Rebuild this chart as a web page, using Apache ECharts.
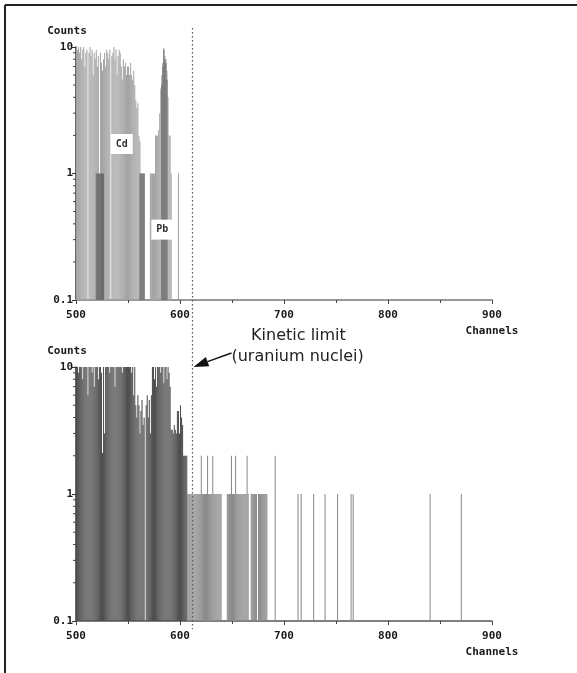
<!DOCTYPE html>
<html><head><meta charset="utf-8">
<script src="https://cdn.jsdelivr.net/npm/echarts@6/dist/echarts.min.js"></script>
<style>html,body{margin:0;padding:0;background:#fff}#c{width:577px;height:673px}</style>
</head><body><div id="c"></div>
<script>
// ---- data ----
const xTickInterval = 100;
const xMin = 500, xMax = 900;
const yMin = 0.1, yMax = 10;
const yMinorTicks = [0.2,0.3,0.4,0.5,0.6,0.7,0.8,0.9,2,3,4,5,6,7,8,9];

// upper panel: Cd + Pb spectrum, one channel per bin
const topCdStart = 500;
const topCdCounts = [
  10,9.5,10,9,10,8,9.5,10,7,9,
  9.5,0,9,10,8.5,9.5,6,9,8,9.5,
  7,8.5,0,9,7.5,6.5,8,9,7,9.5,
  9,8,9.5,0,8.5,9,10,8,9.5,6,
  8.5,9.5,9,7,5.5,8,7,7.5,6,7,
  7,6,7.5,6,5.5,6.5,5,3.8,3.3,3.6,
  2,1.8,1,1,1,1
];
const topPbStart = 571;
const topPbCounts = [1,1,1,1,1,2,2,2,2.2,3,4.7,6,7.5,9.8,8.5,8,6.5,4,2,2,1,0,0,0,0,0,0,1];
const topDarkChannels = [519,520,521,522,523,524,525,526,561,562,563,564,565,582,583,584,585,586,587];
const topDarkCounts   = [1,1,1,1,1,1,1,1,1,1,1,1,1,5,7,9.5,8,7.5,5.5];

// lower panel
const bottomMainStart = 500;
const bottomMainCounts = [
  10,10,9,10,10,10,8,10,10,10,
  10,6,10,10,10,9,10,7,10,10,
  10,8,10,10,9,2.1,10,3,10,10,
  10,10,9,10,10,10,10,7,10,10,
  10,10,10,10,9,10,10,10,10,10,
  10,10,10,9,10,6,10,5,4,6,
  5,3,4.5,5.5,3.5,4,0,5,6,4,
  5.5,3,6,10,10,8,10,7,10,10,
  10,9,10,10,7.5,10,10,8,10,9,
  7,3.2,3.2,3,3.5,3.2,3,4.5,4.5,3,
  5,4,3.5,2,2,2,2
];
const bottomTailChannels = [
  607,608,609,610,611,612,613,614,615,616,617,618,619,620,621,622,623,624,625,626,627,628,629,630,631,
  632,633,634,635,636,637,638,639,645,646,647,648,649,650,651,652,653,654,655,656,657,658,659,660,661,
  662,663,664,665,668,669,670,671,672,673,675,676,677,678,679,680,681,682,683,691,713,716,728,739,751,
  764,766,840,870
];
const bottomTailCounts = [
  1,1,1,1,1,1,1,1,1,1,1,1,1,2,1,1,1,1,1,2,1,1,1,1,2,
  1,1,1,1,1,1,1,1,1,1,1,1,2,1,1,1,2,1,1,1,1,1,1,1,1,
  1,1,2,1,1,1,1,1,1,1,1,1,1,1,1,1,1,1,1,2,1,1,1,1,1,
  1,1,1,1
];
const kineticLimit = 612;
const annotations = [{name:'Cd', ch:544, v:1.71}, {name:'Pb', ch:583, v:0.36}];

// ---- build ----
function fromStart(start, counts){ const out=[]; counts.forEach((v,i)=>{ if(v>0) out.push([start+i, v]); }); return out; }
function fromPairs(chs, counts){ return chs.map((c,i)=>[c, counts[i]]); }

function barItem(params, api){
  const ch = api.value(0), v = api.value(1);
  const p0 = api.coord([ch, v]);
  const p1 = api.coord([ch + 1, yMin]);
  return {type:'rect', shape:{x:p0[0], y:p0[1], width:p1[0]-p0[0], height:p1[1]-p0[1]}, style:{fill: api.visual('color')}};
}
function tickItem(params, api){
  const p = api.coord([xMin, api.value(1)]);
  return {type:'line', shape:{x1:p[0]-3, y1:p[1], x2:p[0], y2:p[1]}, style:{stroke:'#444', lineWidth:1}};
}

const labelFont = {fontFamily:'DejaVu Sans Mono', fontSize:11, color:'#1a1a1a', fontWeight:'bold'};
function xAxisCfg(gi, lineColor, lineW){
  return {gridIndex:gi, type:'value', min:xMin, max:xMax, interval:xTickInterval,
    name:'Channels', nameLocation:'end', nameGap:0,
    nameTextStyle:Object.assign({align:'center', verticalAlign:'top', padding:[26,0,0,0]}, labelFont),
    axisLine:{lineStyle:{color:lineColor, width:lineW}},
    axisTick:{length:4, lineStyle:{color:'#444'}},
    minorTick:{show:true, splitNumber:2, length:3, lineStyle:{color:'#444'}},
    splitLine:{show:false},
    axisLabel:Object.assign({margin:10}, labelFont)};
}
function yAxisCfg(gi){
  return {gridIndex:gi, type:'log', logBase:10, min:yMin, max:yMax,
    name:'Counts', nameLocation:'end', nameGap:10,
    nameTextStyle:Object.assign({align:'center', padding:[0,18,0,0]}, labelFont),
    axisLine:{show:true, lineStyle:{color:'#333', width:1.5}},
    axisTick:{show:true, length:4, lineStyle:{color:'#333'}},
    splitLine:{show:false},
    axisLabel:Object.assign({margin:3, formatter: v => String(v)}, labelFont)};
}

const chart = echarts.init(document.getElementById('c'), null, {renderer:'canvas'});
chart.setOption({
  animation:false,
  backgroundColor:'#fff',
  grid:[{left:76, right:85, top:47, height:253}, {left:76, right:85, top:367, height:254}],
  xAxis:[xAxisCfg(0,'#999',2), xAxisCfg(1,'#555',1.5)],
  yAxis:[yAxisCfg(0), yAxisCfg(1)],
  series:[
    {type:'custom', name:'Cd/Pb', xAxisIndex:0, yAxisIndex:0, renderItem:barItem, itemStyle:{color:'#a4a4a4'},
     data: fromStart(topCdStart, topCdCounts).concat(fromStart(topPbStart, topPbCounts)),
     markPoint:{symbol:'rect', symbolSize:0, silent:true,
       label:{show:true, position:'inside', formatter:p=>p.name, backgroundColor:'#fff', padding:[5,5],
              fontFamily:'DejaVu Sans Mono', fontSize:10, fontWeight:'bold', color:'#333'},
       data: annotations.map(a=>({name:a.name, coord:[a.ch, a.v]}))}},
    {type:'custom', name:'overlap', xAxisIndex:0, yAxisIndex:0, renderItem:barItem, itemStyle:{color:'#6c6c6c'},
     data: fromPairs(topDarkChannels, topDarkCounts)},
    {type:'custom', name:'main', xAxisIndex:1, yAxisIndex:1, renderItem:barItem, itemStyle:{color:'#4e4e4e'},
     data: fromStart(bottomMainStart, bottomMainCounts)},
    {type:'custom', name:'tail', xAxisIndex:1, yAxisIndex:1, renderItem:barItem, itemStyle:{color:'#8a8a8a'},
     data: fromPairs(bottomTailChannels, bottomTailCounts)},
    {type:'custom', xAxisIndex:0, yAxisIndex:0, renderItem:tickItem, clip:false, silent:true, z:5,
     data: yMinorTicks.map(v=>[xMin, v])},
    {type:'custom', xAxisIndex:1, yAxisIndex:1, renderItem:tickItem, clip:false, silent:true, z:5,
     data: yMinorTicks.map(v=>[xMin, v])}
  ]
});

// annotations drawn from the axes' own scales
const lx = chart.convertToPixel({xAxisIndex:0}, kineticLimit);
const topY = chart.convertToPixel({yAxisIndex:0}, yMax) - 19;
const botY = chart.convertToPixel({yAxisIndex:1}, yMin) + 8;
const tip = chart.convertToPixel({xAxisIndex:1, yAxisIndex:1}, [kineticLimit, yMax]);
const tail = [tip[0] + 39, tip[1] - 14];
const dx = tail[0]-tip[0], dy = tail[1]-tip[1], L = Math.hypot(dx, dy);
const ux = dx/L, uy = dy/L, hl = 16, hw = 5;
const base = [tip[0]+ux*hl, tip[1]+uy*hl];
chart.setOption({graphic:[
  {type:'line', silent:true, shape:{x1:5, y1:5, x2:577, y2:5}, style:{stroke:'#222', lineWidth:2}},
  {type:'line', silent:true, shape:{x1:5, y1:5, x2:5, y2:673}, style:{stroke:'#222', lineWidth:2}},
  {type:'line', silent:true, z:10, shape:{x1:lx, y1:topY, x2:lx, y2:botY}, style:{stroke:'#555', lineWidth:1.2, lineDash:[1.5,2.5]}},
  {type:'line', silent:true, z:10, shape:{x1:base[0], y1:base[1], x2:tail[0], y2:tail[1]}, style:{stroke:'#111', lineWidth:1.5}},
  {type:'polygon', silent:true, z:10, shape:{points:[[tip[0]+1, tip[1]], [base[0]-uy*hw, base[1]+ux*hw], [base[0]+uy*hw, base[1]-ux*hw]]}, style:{fill:'#111'}},
  {type:'text', silent:true, z:10, x:tip[0]+106, y:tip[1]-31, style:{text:'Kinetic limit', font:'16px "DejaVu Sans"', fill:'#222', align:'center', verticalAlign:'middle'}},
  {type:'text', silent:true, z:10, x:tail[0], y:tail[1]+4, style:{text:'(uranium nuclei)', font:'16px "DejaVu Sans"', fill:'#222', align:'left', verticalAlign:'middle'}}
]});
</script>
</body></html>
